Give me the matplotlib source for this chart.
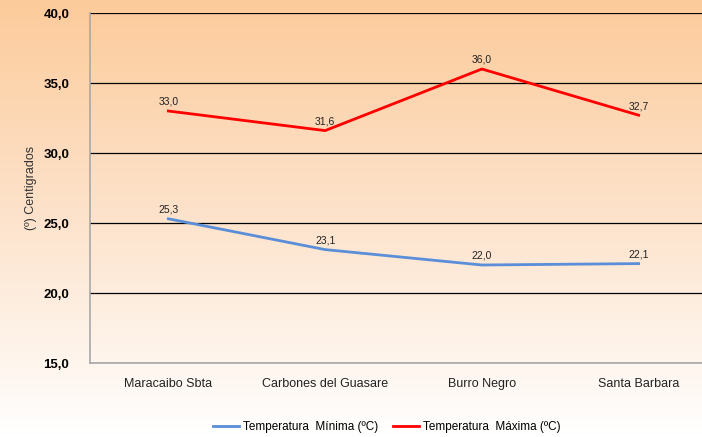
import numpy as np
import matplotlib.pyplot as plt
from matplotlib.colors import LinearSegmentedColormap

plt.rcParams['font.family'] = ['Liberation Sans', 'DejaVu Sans']

stations = ["Maracaibo Sbta", "Carbones del Guasare", "Burro Negro", "Santa Barbara"]
t_min = [25.3, 23.1, 22.0, 22.1]
t_max = [33.0, 31.6, 36.0, 32.7]
y_ticks = [15, 20, 25, 30, 35, 40]

fig = plt.figure(figsize=(7.02, 4.37), dpi=100)

# background gradient over the whole figure
bg = fig.add_axes([0, 0, 1, 1], zorder=0)
cmap = LinearSegmentedColormap.from_list("peach", ["#fccb9b", "#fde3cc", "#ffffff"])
grad = np.linspace(0, 1, 256).reshape(-1, 1)
bg.imshow(grad, aspect="auto", cmap=cmap, extent=[0, 1, 0, 1], origin="upper")
bg.axis("off")

ax = fig.add_axes([90 / 702, 1 - 363 / 437, 627 / 702, 350 / 437], zorder=1)
ax.patch.set_alpha(0)
x = np.arange(len(stations))

ax.plot(x, t_min, color="#5a8ed8", lw=2, label="Temperatura  Mínima (ºC)")
ax.plot(x, t_max, color="#ff0000", lw=2, label="Temperatura  Máxima (ºC)")

for xi, v in zip(x, t_min):
    ax.annotate(f"{v:.1f}".replace(".", ","), (xi, v), xytext=(0, 3), textcoords="offset points",
                ha="center", va="bottom", fontsize=7.5, color="#222222")
for xi, v in zip(x, t_max):
    ax.annotate(f"{v:.1f}".replace(".", ","), (xi, v), xytext=(0, 3), textcoords="offset points",
                ha="center", va="bottom", fontsize=7.5, color="#222222")

ax.set_xlim(-0.5, 3.5)
ax.set_ylim(15, 40)
ax.set_yticks(y_ticks)
ax.set_yticklabels([f"{t:.1f}".replace(".", ",") for t in y_ticks], fontsize=9.5, fontweight="bold")
ax.set_xticks(x)
ax.set_xticklabels(stations, fontsize=9, color="#222222")
ax.tick_params(axis="both", length=0)
ax.tick_params(axis="y", pad=15)
ax.tick_params(axis="x", pad=11)
ax.grid(axis="y", color="black", lw=0.9)
ax.set_axisbelow(True)
for s in ["top", "right"]:
    ax.spines[s].set_visible(False)
ax.spines["left"].set_color("#a8a8a8")
ax.spines["bottom"].set_color("#a8a8a8")
ax.spines["left"].set_linewidth(1.2)
ax.spines["bottom"].set_linewidth(1.2)

ax.set_ylabel("(º) Centigrados", fontsize=9, color="#333333")
ax.yaxis.set_label_coords(-53 / 627, 0.5)

fig.legend(loc="center", bbox_to_anchor=(387 / 702, 1 - 427 / 437), ncol=2, frameon=False,
           fontsize=8.5, handlelength=2.2, columnspacing=1.3, handletextpad=0.3)

fig.savefig("out.png", dpi=100)
